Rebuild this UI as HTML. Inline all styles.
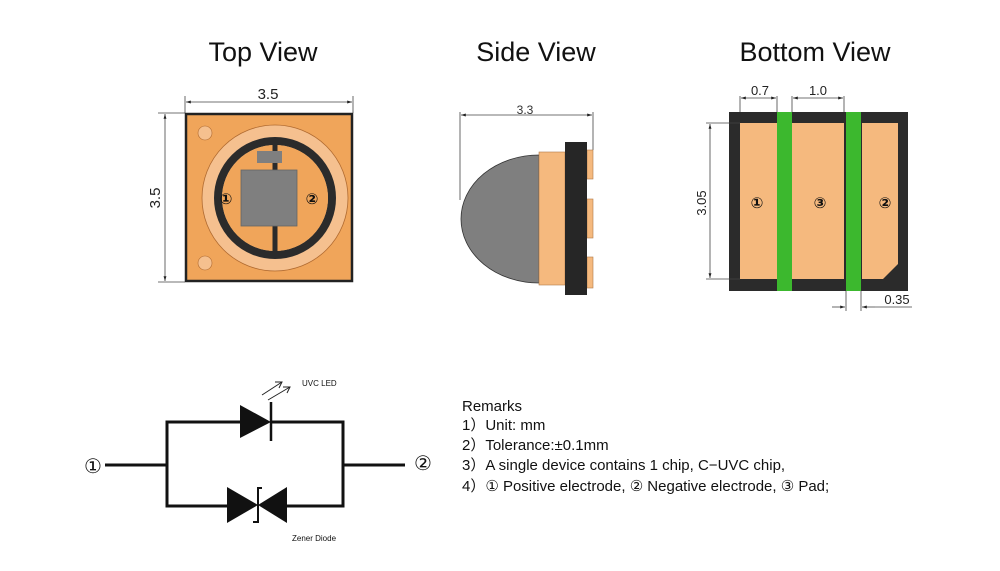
<!DOCTYPE html>
<html><head><meta charset="utf-8"><style>
html,body{margin:0;padding:0;background:#fff;}
svg{display:block;font-family:"Liberation Sans","DejaVu Sans",sans-serif;}
</style></head><body>
<svg width="1000" height="571" viewBox="0 0 1000 571" xmlns="http://www.w3.org/2000/svg">
<defs>
<marker id="ar" viewBox="0 0 10 10" refX="10" refY="5" markerWidth="6" markerHeight="6" orient="auto-start-reverse"><path d="M0,2 L10,5 L0,8 z" fill="#222"/></marker>
</defs>
<!-- titles -->
<text x="263" y="61" font-size="27" text-anchor="middle" fill="#111">Top View</text>
<text x="536" y="61" font-size="27" text-anchor="middle" fill="#111">Side View</text>
<text x="815" y="61" font-size="27" text-anchor="middle" fill="#111">Bottom View</text>

<!-- TOP VIEW -->
<g stroke="#444" stroke-width="0.8" fill="none">
<line x1="185" y1="96" x2="185" y2="113"/><line x1="353" y1="96" x2="353" y2="113"/>
<line x1="186" y1="102" x2="352" y2="102" marker-start="url(#ar)" marker-end="url(#ar)"/>
<line x1="158" y1="113" x2="185" y2="113"/><line x1="158" y1="282" x2="185" y2="282"/>
<line x1="165" y1="114" x2="165" y2="281" marker-start="url(#ar)" marker-end="url(#ar)"/>
</g>
<text x="268" y="99" font-size="15" text-anchor="middle" fill="#222">3.5</text>
<text x="0" y="0" font-size="15" text-anchor="middle" fill="#222" transform="translate(160,198) rotate(-90)">3.5</text>
<rect x="186" y="114" width="166" height="167" fill="#f0a55a" stroke="#222" stroke-width="2.5"/>
<circle cx="275" cy="198" r="73" fill="#f5c08f" stroke="#b06a30" stroke-width="0.8"/>
<circle cx="275" cy="198" r="57" fill="none" stroke="#2b2b2b" stroke-width="8"/>
<circle cx="275" cy="198" r="53" fill="#f0a55a"/>
<rect x="272.5" y="143" width="5" height="110" fill="#2b2b2b"/>
<rect x="257" y="151" width="25" height="12" fill="#7f7f7f"/>
<rect x="241" y="170" width="56" height="56" fill="#7f7f7f" stroke="#666" stroke-width="0.8"/>
<circle cx="205" cy="133" r="7" fill="#f5c08f" stroke="#b06a30" stroke-width="0.6"/>
<circle cx="205" cy="263" r="7" fill="#f5c08f" stroke="#b06a30" stroke-width="0.6"/>
<text x="226" y="204" font-size="15" font-weight="bold" text-anchor="middle" fill="#111">①</text>
<text x="312" y="204" font-size="15" font-weight="bold" text-anchor="middle" fill="#111">②</text>

<!-- SIDE VIEW -->
<g stroke="#444" stroke-width="0.8" fill="none">
<line x1="460" y1="112" x2="460" y2="200"/><line x1="593" y1="112" x2="593" y2="150"/>
<line x1="461" y1="115" x2="592" y2="115" marker-start="url(#ar)" marker-end="url(#ar)"/>
</g>
<text x="525" y="114" font-size="12" text-anchor="middle" fill="#333">3.3</text>
<path d="M539,155 A78,64 0 0 0 539,283 Z" fill="#7f7f7f" stroke="#333" stroke-width="0.8"/>
<rect x="539" y="152" width="26" height="133" fill="#f5b97e" stroke="#b07a4a" stroke-width="0.6"/>
<rect x="587" y="150" width="6" height="29" fill="#f5b97e" stroke="#b07a4a" stroke-width="0.6"/>
<rect x="587" y="199" width="6" height="39" fill="#f5b97e" stroke="#b07a4a" stroke-width="0.6"/>
<rect x="587" y="257" width="6" height="31" fill="#f5b97e" stroke="#b07a4a" stroke-width="0.6"/>
<rect x="565" y="142" width="22" height="153" fill="#262626"/>

<!-- BOTTOM VIEW -->
<rect x="729" y="112" width="179" height="179" fill="#2b2b2b"/>
<rect x="740" y="123" width="37" height="156" fill="#f5b97e"/>
<rect x="792" y="123" width="52" height="156" fill="#f5b97e"/>
<path d="M862,123 H898 V264 L883,279 H862 Z" fill="#f5b97e"/>
<rect x="777" y="112" width="15" height="179" fill="#3cb82e"/>
<rect x="846" y="112" width="15" height="179" fill="#3cb82e"/>
<text x="757" y="208" font-size="15" font-weight="bold" text-anchor="middle" fill="#111">①</text>
<text x="820" y="208" font-size="15" font-weight="bold" text-anchor="middle" fill="#111">③</text>
<text x="885" y="208" font-size="15" font-weight="bold" text-anchor="middle" fill="#111">②</text>
<g stroke="#444" stroke-width="0.8" fill="none">
<line x1="740" y1="96" x2="740" y2="112"/><line x1="777" y1="96" x2="777" y2="112"/>
<line x1="741" y1="98" x2="776" y2="98" marker-start="url(#ar)" marker-end="url(#ar)"/>
<line x1="792" y1="96" x2="792" y2="112"/><line x1="844" y1="96" x2="844" y2="112"/>
<line x1="793" y1="98" x2="843" y2="98" marker-start="url(#ar)" marker-end="url(#ar)"/>
<line x1="706" y1="123" x2="740" y2="123"/><line x1="706" y1="279" x2="740" y2="279"/>
<line x1="710" y1="124" x2="710" y2="278" marker-start="url(#ar)" marker-end="url(#ar)"/>
<line x1="846" y1="291" x2="846" y2="311"/><line x1="861" y1="291" x2="861" y2="311"/>
<line x1="832" y1="307" x2="845" y2="307" marker-end="url(#ar)"/>
<line x1="875" y1="307" x2="862" y2="307" marker-end="url(#ar)"/>
<line x1="875" y1="307" x2="912" y2="307"/>
</g>
<text x="760" y="95" font-size="13" text-anchor="middle" fill="#222">0.7</text>
<text x="818" y="95" font-size="13" text-anchor="middle" fill="#222">1.0</text>
<text x="0" y="0" font-size="13" text-anchor="middle" fill="#222" transform="translate(706,203) rotate(-90)">3.05</text>
<text x="897" y="304" font-size="13" text-anchor="middle" fill="#222">0.35</text>

<!-- SCHEMATIC -->
<g stroke="#111" stroke-width="3" fill="none">
<line x1="105" y1="465" x2="167" y2="465"/>
<polyline points="240,422 167,422 167,506 227,506"/>
<polyline points="271,422 343,422 343,506 287,506"/>
<line x1="343" y1="465" x2="405" y2="465"/>
<line x1="271" y1="402" x2="271" y2="441" stroke-width="2.5"/>
<polyline points="253,522 258,522 258,488 262,488" stroke-width="2"/>
</g>
<polygon points="240,405 271,422 240,438" fill="#111"/>
<polygon points="227,487 258,505 227,523" fill="#111"/>
<polygon points="287,487 258,505 287,523" fill="#111"/>
<g stroke="#222" stroke-width="1" fill="none">
<line x1="262" y1="395" x2="282" y2="382"/><polyline points="275,382 282,382 279,388"/>
<line x1="268" y1="400" x2="290" y2="387"/><polyline points="283,387 290,387 287,393"/>
</g>
<text x="302" y="386" font-size="8" fill="#111">UVC LED</text>
<text x="292" y="541" font-size="8" fill="#111">Zener Diode</text>
<text x="93" y="473" font-size="20" text-anchor="middle" fill="#111">①</text>
<text x="423" y="470" font-size="20" text-anchor="middle" fill="#111">②</text>

<!-- REMARKS -->
<g font-size="15" fill="#111">
<text x="462" y="411">Remarks</text>
<text x="462" y="430">1）Unit: mm</text>
<text x="462" y="450">2）Tolerance:±0.1mm</text>
<text x="462" y="470">3）A single device contains 1 chip, C−UVC chip,</text>
<text x="462" y="491">4）① Positive electrode, ② Negative electrode, ③ Pad;</text>
</g>
</svg>
</body></html>
